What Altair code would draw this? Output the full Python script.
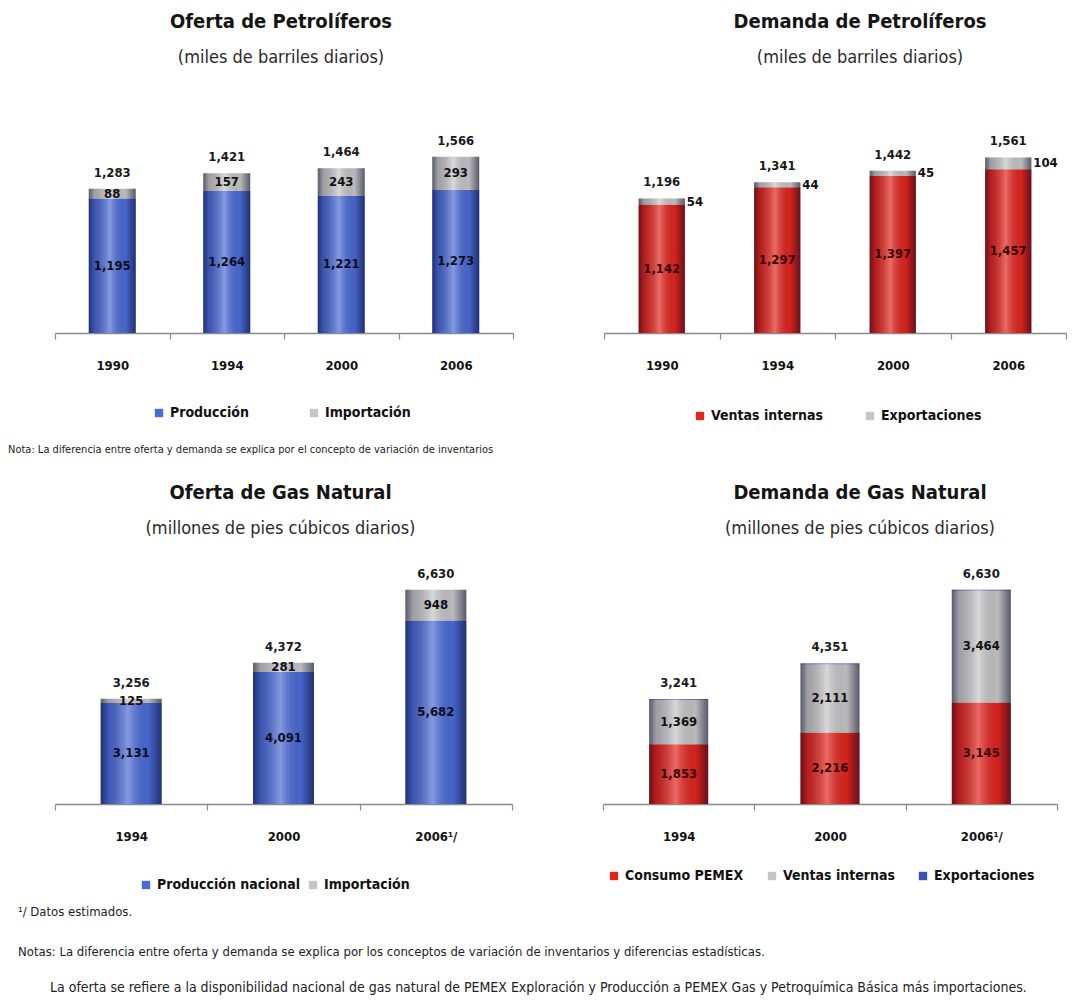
import altair as alt
import pandas as pd

FONT = "Liberation Sans Narrow, Arial Narrow, DejaVu Sans Condensed, sans-serif"

# --- Oferta de petrolíferos (miles de barriles diarios)
anios_petro = ["1990", "1994", "2000", "2006"]
oferta_produccion = [1195, 1264, 1221, 1273]
oferta_importacion = [88, 157, 243, 293]
oferta_total = [1283, 1421, 1464, 1566]

# --- Demanda de petrolíferos
demanda_ventas = [1142, 1297, 1397, 1457]
demanda_exportaciones = [54, 44, 45, 104]
demanda_total = [1196, 1341, 1442, 1561]

# --- Oferta de gas natural (millones de pies cúbicos diarios)
anios_gas = ["1994", "2000", "2006"]
gas_produccion = [3131, 4091, 5682]
gas_importacion = [125, 281, 948]
gas_oferta_total = [3256, 4372, 6630]

# --- Demanda de gas natural
gas_consumo_pemex = [1853, 2216, 3145]
gas_ventas_internas = [1369, 2111, 3464]
gas_exportaciones = [19, 24, 21]
gas_demanda_total = [3241, 4351, 6630]

nota_petro = ("Nota: La diferencia entre oferta y demanda se explica por el concepto "
              "de variación de inventarios")
nota_estimados = "¹/ Datos estimados."
nota_gas = ("Notas: La diferencia entre oferta y demanda se explica por los conceptos de "
            "variación de inventarios y diferencias estadísticas.")
nota_oferta_gas = ("La oferta se refiere a la disponibilidad nacional de gas natural de PEMEX "
                   "Exploración y Producción a PEMEX Gas y Petroquímica Básica más importaciones.")

AZUL = "#4a6bd4"
GRIS = "#c6c6c6"
ROJO = "#e2251c"
AZUL_EXP = "#3b4db8"

# cylinder shading laid over each whole bar
SOMBRA = alt.Gradient(
    gradient="linear", x1=0, x2=1, y1=0, y2=0,
    stops=[
        alt.GradientStop(offset=0.0, color="rgba(0,0,30,0.55)"),
        alt.GradientStop(offset=0.12, color="rgba(0,0,30,0.2)"),
        alt.GradientStop(offset=0.45, color="rgba(255,255,255,0.32)"),
        alt.GradientStop(offset=0.78, color="rgba(0,0,30,0.06)"),
        alt.GradientStop(offset=1.0, color="rgba(0,0,30,0.55)"),
    ],
)

EXTENSION_Y = 47  # room kept left of each plot by an invisible y axis


def fmt(v):
    return f"{v:,}"


def panel(anios, series, totales, titulo, subtitulo, ymax, alto, ancho,
          banda, leyenda_x, leyenda_y, col_pad, titulo_dx, titulo_offset,
          label_pad, etiquetas, lateral=None, superindice=False):
    filas = []
    for orden, (nombre, valores, _color) in enumerate(series):
        for a, v in zip(anios, valores):
            filas.append({"anio": a, "serie": nombre, "valor": v,
                          "orden": orden, "texto": fmt(v)})
    df = pd.DataFrame(filas)
    df_tot = pd.DataFrame({"anio": anios, "total": totales,
                           "texto": [fmt(t) for t in totales]})

    label_expr = "datum.value"
    if superindice:
        label_expr = "datum.value == '2006' ? '2006¹/' : datum.value"

    x = alt.X("anio:N", sort=anios,
              scale=alt.Scale(paddingInner=0, paddingOuter=0),
              axis=alt.Axis(title=None, labelAngle=0, tickBand="extent",
                            labelFont=FONT, labelFontSize=13, labelFontWeight="bold",
                            labelColor="#111", labelPadding=label_pad, labelExpr=label_expr,
                            tickSize=6, tickColor="#8a8a8a", domainColor="#8a8a8a",
                            domainWidth=1.5, tickWidth=1.2))
    yscale = alt.Scale(domain=[0, ymax], nice=False, zero=True)

    base = alt.Chart(df).transform_stack(
        stack="valor", groupby=["anio"], as_=["v0", "v1"],
        sort=[alt.SortField("orden", order="ascending")],
    ).transform_calculate(medio="(datum.v0 + datum.v1) / 2")

    barras = base.mark_bar(width=alt.RelativeBandSize(banda)).encode(
        x=x,
        y=alt.Y("v0:Q", scale=yscale,
                axis=alt.Axis(labels=False, ticks=False, domain=False, grid=False,
                              title=None, minExtent=EXTENSION_Y, maxExtent=EXTENSION_Y)),
        y2="v1:Q",
        color=alt.Color("serie:N",
                        scale=alt.Scale(domain=[s[0] for s in series],
                                        range=[s[2] for s in series]),
                        legend=alt.Legend(orient="none", direction="horizontal",
                                          legendX=leyenda_x, legendY=leyenda_y,
                                          title=None, symbolType="square",
                                          symbolSize=70, symbolStrokeWidth=0,
                                          labelFont=FONT, labelFontSize=14,
                                          labelFontWeight="bold", labelColor="#111",
                                          columnPadding=col_pad, labelLimit=300)),
        order=alt.Order("orden:Q"),
    )

    sombra = alt.Chart(df_tot).mark_bar(width=alt.RelativeBandSize(banda),
                                        fill=SOMBRA).encode(
        x=x, y=alt.Y("total:Q", scale=yscale))

    capas = [barras, sombra]

    for nombre, color_txt in etiquetas:
        capas.append(
            base.transform_filter(alt.datum.serie == nombre)
            .mark_text(font=FONT, fontSize=13, fontWeight="bold", color=color_txt)
            .encode(x=x, y=alt.Y("medio:Q", scale=yscale), text="texto:N")
        )
    if lateral is not None:
        nombre, dx = lateral
        capas.append(
            base.transform_filter(alt.datum.serie == nombre)
            .mark_text(font=FONT, fontSize=13, fontWeight="bold", color="#111",
                       align="left", dx=dx)
            .encode(x=x, y=alt.Y("medio:Q", scale=yscale), text="texto:N")
        )

    capas.append(
        alt.Chart(df_tot).mark_text(font=FONT, fontSize=13, fontWeight="bold",
                                    color="#1a1a1a", baseline="bottom", dy=-9)
        .encode(x=x, y=alt.Y("total:Q", scale=yscale), text="texto:N")
    )

    return alt.layer(*capas).properties(
        width=ancho, height=alto,
        title=alt.TitleParams(text=titulo, subtitle=subtitulo, anchor="middle",
                              frame="group", dx=titulo_dx,
                              font=FONT, fontSize=20, fontWeight="bold", color="#151515",
                              subtitleFont=FONT, subtitleFontSize=18,
                              subtitleColor="#2a2a2a", subtitlePadding=17,
                              offset=titulo_offset),
    ).resolve_scale(color="independent")


oferta_petro = panel(
    anios_petro,
    [("Producción", oferta_produccion, AZUL), ("Importación", oferta_importacion, GRIS)],
    oferta_total, "Oferta de Petrolíferos", "(miles de barriles diarios)",
    ymax=2125, alto=239, ancho=458, banda=0.41,
    leyenda_x=97, leyenda_y=312, col_pad=58, titulo_dx=-3, titulo_offset=27,
    label_pad=20,
    etiquetas=[("Producción", "#0d0d1f"), ("Importación", "#111")],
)

demanda_petro = panel(
    anios_petro,
    [("Ventas internas", demanda_ventas, ROJO), ("Exportaciones", demanda_exportaciones, GRIS)],
    demanda_total, "Demanda de Petrolíferos", "(miles de barriles diarios)",
    ymax=2125, alto=239, ancho=462, banda=0.40,
    leyenda_x=89, leyenda_y=315, col_pad=40, titulo_dx=25, titulo_offset=27,
    label_pad=20,
    etiquetas=[("Ventas internas", "#3a0505")],
    lateral=("Exportaciones", 25),
)

oferta_gas = panel(
    anios_gas,
    [("Producción nacional", gas_produccion, AZUL), ("Importación", gas_importacion, GRIS)],
    gas_oferta_total, "Oferta de Gas Natural", "(millones de pies cúbicos diarios)",
    ymax=7400, alto=239, ancho=457, banda=0.40,
    leyenda_x=84, leyenda_y=313, col_pad=5, titulo_dx=-3, titulo_offset=27,
    label_pad=20,
    etiquetas=[("Producción nacional", "#0d0d1f"), ("Importación", "#111")],
    superindice=True,
)

demanda_gas = panel(
    anios_gas,
    [("Consumo PEMEX", gas_consumo_pemex, ROJO), ("Ventas internas", gas_ventas_internas, GRIS),
     ("Exportaciones", gas_exportaciones, AZUL_EXP)],
    gas_demanda_total, "Demanda de Gas Natural", "(millones de pies cúbicos diarios)",
    ymax=7400, alto=239, ancho=454, banda=0.39,
    leyenda_x=4, leyenda_y=304, col_pad=21, titulo_dx=30, titulo_offset=27,
    label_pad=20,
    etiquetas=[("Consumo PEMEX", "#3a0505"), ("Ventas internas", "#111")],
    superindice=True,
)

fila_petro = alt.hconcat(oferta_petro, demanda_petro, spacing=43).resolve_scale(
    color="independent", x="independent", y="independent").resolve_legend(color="independent")

fila_gas = alt.hconcat(oferta_gas, demanda_gas, spacing=43).resolve_scale(
    color="independent", x="independent", y="independent").resolve_legend(color="independent")
fila_gas = fila_gas.properties(
    title=alt.TitleParams(text=nota_petro, anchor="start", font=FONT, fontSize=11,
                          fontWeight="normal", color="#222", offset=28))

chart = alt.vconcat(fila_petro, fila_gas, spacing=21).resolve_scale(
    color="independent", x="independent", y="independent"
).resolve_legend(color="independent").properties(
    padding={"left": 8, "top": 12, "right": 2, "bottom": 4},
    background="white",
    title=alt.TitleParams(
        text=[nota_estimados, nota_gas],
        subtitle="\u200d" + "\u00a0" * 8 + nota_oferta_gas,
        orient="bottom", anchor="start", dx=10, offset=14,
        font=FONT, fontSize=13, fontWeight="normal", color="#222", lineHeight=40,
        subtitleFont=FONT, subtitleFontSize=14, subtitleColor="#222", subtitlePadding=22,
    ),
).configure_view(stroke=None)

chart.save("out.html", embed_options={"renderer": "svg", "actions": False})
